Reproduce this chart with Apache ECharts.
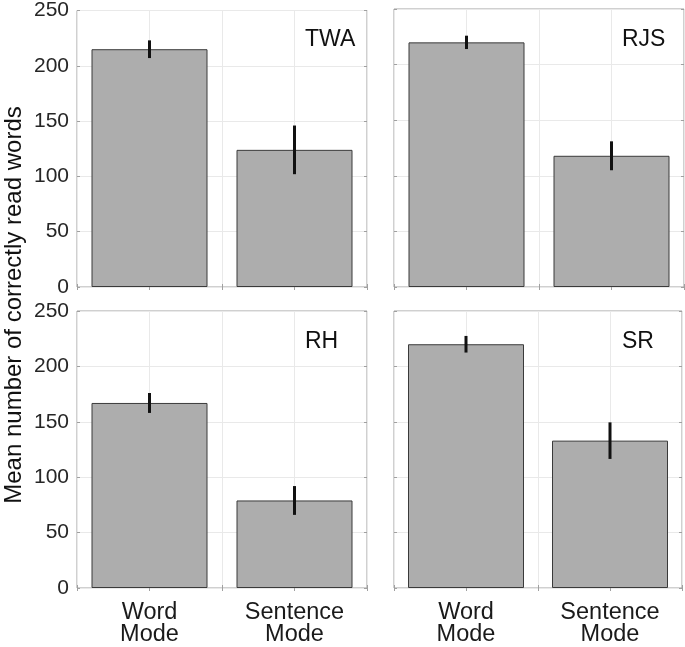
<!DOCTYPE html>
<html>
<head>
<meta charset="utf-8">
<script src="https://cdn.jsdelivr.net/npm/echarts@6/dist/echarts.min.js"></script>
<style>
html,body{margin:0;padding:0;background:#fff;}
#chart{width:685px;height:647px;}
</style>
</head>
<body>
<div id="chart"></div>
<script>
// ---- data ----
const panelNames = ['TWA', 'RJS', 'RH', 'SR'];
const categories = ['Word\nMode', 'Sentence\nMode'];
const yTicks = [0, 50, 100, 150, 200, 250];
const twaMeans = [215, 124];
const twaErr = [8, 22];
const rjsMeans = [220, 118];
const rjsErr = [6, 13];
const rhMeans = [167, 79];
const rhErr = [9, 13];
const srMeans = [220, 133];
const srErr = [7.5, 16.5];
const yTitle = 'Mean number of correctly read words';

const means = [twaMeans, rjsMeans, rhMeans, srMeans];
const errs = [twaErr, rjsErr, rhErr, srErr];

// ---- layout ----
const FONT = 'Liberation Sans';
const gridPos = [
  {left: 77, top: 9}, {left: 394, top: 9},
  {left: 77, top: 311}, {left: 394, top: 311}
];
const GW = 290, GH = 278;

const grids = [], xAxes = [], yAxes = [], series = [], titles = [];

gridPos.forEach((g, i) => {
  grids.push({left: g.left, top: g.top, width: GW, height: GH,
    show: true, borderColor: '#a0a0a0', borderWidth: 1, backgroundColor: 'transparent'});
  const bottomRow = i >= 2;
  const leftCol = i % 2 === 0;
  // bottom x
  xAxes.push({
    type: 'value', gridIndex: i, position: 'bottom', min: 0.5, max: 2.5, interval: 0.5,
    axisLine: {show: false},
    axisTick: {show: true, inside: true, length: 3, lineStyle: {color: '#a0a0a0'}},
    splitLine: {show: true, lineStyle: {color: '#e9e9e9', width: 1}},
    axisLabel: {
      show: bottomRow, margin: 14, fontFamily: FONT, fontSize: 23.5, lineHeight: 22, color: '#1a1a1a',
      showMinLabel: true, showMaxLabel: true,
      formatter: v => (Math.abs(v - 1) < 1e-6 ? categories[0] : (Math.abs(v - 2) < 1e-6 ? categories[1] : ''))
    }
  });
  // top x (ticks only)
  xAxes.push({
    type: 'value', gridIndex: i, position: 'top', min: 0.5, max: 2.5, interval: 0.5,
    axisLine: {show: false},
    axisTick: {show: true, inside: true, length: 3, lineStyle: {color: '#a0a0a0'}},
    splitLine: {show: false}, axisLabel: {show: false}
  });
  // left y
  yAxes.push({
    type: 'value', gridIndex: i, position: 'left', min: yTicks[0], max: yTicks[yTicks.length - 1], interval: 50,
    axisLine: {show: false},
    axisTick: {show: true, inside: true, length: 3, lineStyle: {color: '#a0a0a0'}},
    splitLine: {show: true, lineStyle: {color: '#e9e9e9', width: 1}},
    axisLabel: {show: leftCol, margin: 8, fontFamily: FONT, fontSize: 21, color: '#262626'}
  });
  // right y (ticks only)
  yAxes.push({
    type: 'value', gridIndex: i, position: 'right', min: yTicks[0], max: yTicks[yTicks.length - 1], interval: 50,
    axisLine: {show: false},
    axisTick: {show: true, inside: true, length: 3, lineStyle: {color: '#a0a0a0'}},
    splitLine: {show: false}, axisLabel: {show: false}
  });

  series.push({
    type: 'bar', xAxisIndex: i * 2, yAxisIndex: i * 2, barWidth: 116,
    itemStyle: {color: '#adadad', borderColor: '#3a3a3a', borderWidth: 1},
    data: means[i].map((m, k) => [k + 1, m]),
    silent: true, z: 2
  });
  series.push({
    type: 'custom', xAxisIndex: i * 2, yAxisIndex: i * 2, z: 5, silent: true,
    data: means[i].map((m, k) => [k + 1, m - errs[i][k], m + errs[i][k]]),
    renderItem: (params, api) => {
      const x = api.value(0);
      const p1 = api.coord([x, api.value(1)]);
      const p2 = api.coord([x, api.value(2)]);
      return {type: 'line', shape: {x1: p1[0], y1: p1[1], x2: p2[0], y2: p2[1]},
        style: {stroke: '#111', lineWidth: 3}};
    }
  });

  titles.push({
    text: panelNames[i], left: g.left + 228, top: g.top + 19, padding: 0,
    textStyle: {fontFamily: FONT, fontSize: 23, fontWeight: 'normal', color: '#111'}
  });
});

const chart = echarts.init(document.getElementById('chart'), null, {renderer: 'canvas'});
chart.setOption({
  animation: false,
  backgroundColor: '#fff',
  title: titles,
  grid: grids,
  xAxis: xAxes,
  yAxis: yAxes,
  series: series,
  graphic: [{
    type: 'text', x: 14, y: 305, rotation: Math.PI / 2,
    style: {text: yTitle, fontFamily: FONT, fontSize: 24, fill: '#111',
      textAlign: 'center', textVerticalAlign: 'middle'}
  }]
});
</script>
</body>
</html>
